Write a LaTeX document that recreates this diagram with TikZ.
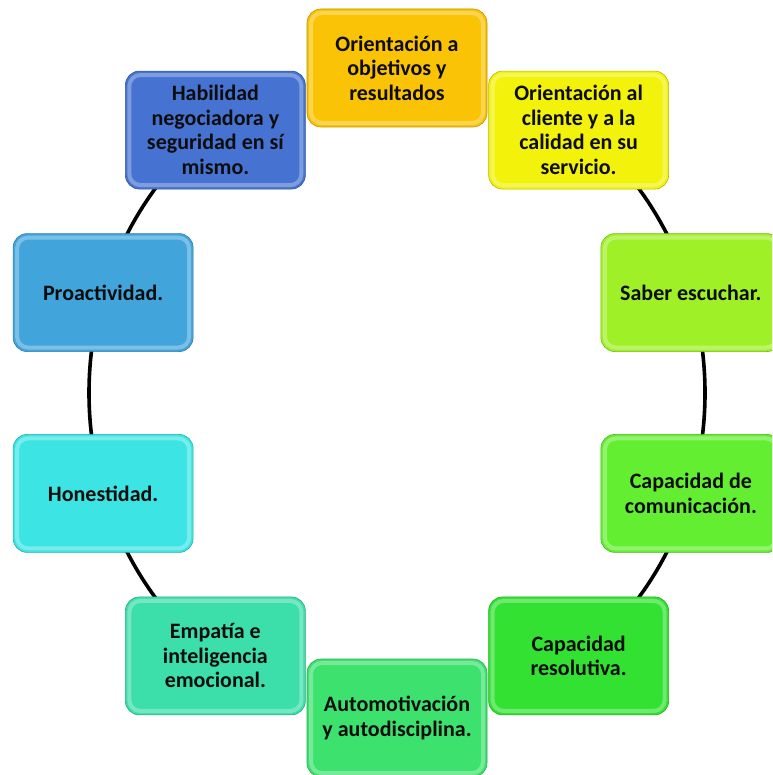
\documentclass[tikz,border=0pt]{standalone}
\usepackage{fontspec}
\setmainfont{Carlito}
\definecolor{c0}{RGB}{250,195,5}
\definecolor{c1}{RGB}{242,242,10}
\definecolor{c2}{RGB}{160,240,40}
\definecolor{c3}{RGB}{100,238,50}
\definecolor{c4}{RGB}{50,225,50}
\definecolor{c5}{RGB}{60,225,110}
\definecolor{c6}{RGB}{60,222,170}
\definecolor{c7}{RGB}{60,228,228}
\definecolor{c8}{RGB}{65,165,220}
\definecolor{c9}{RGB}{70,115,210}
\begin{document}
\begin{tikzpicture}[x=1pt,y=1pt,
  cycbox/.style={draw=#1!75!black, line width=0.6pt, fill=#1,
    rounded corners=14pt, minimum width=180pt, minimum height=118pt,
    align=center, inner sep=2pt, text=black!95,
    font=\fontsize{22}{24.5}\selectfont\bfseries,
    path picture={\draw[white, opacity=0.3, line width=4pt, rounded corners=11pt]
      ([shift={(4pt,4pt)}]path picture bounding box.south west) rectangle
      ([shift={(-4pt,-4pt)}]path picture bounding box.north east);}},
  ring/.style={line width=3.6pt, black}]
\clip (0,0) rectangle (772,-775);
% ring that links the boxes, on both sides of the cycle
\coordinate (ctr) at (397,-393);
\draw[ring] ([shift={(-54:308pt and 330pt)}]ctr)
  arc[start angle=-54, end angle=54, x radius=308pt, y radius=330pt];
\draw[ring] ([shift={(126:308pt and 330pt)}]ctr)
  arc[start angle=126, end angle=234, x radius=308pt, y radius=330pt];
% the ten boxes placed clockwise from the top
\foreach \k/\txt in {
  0/{Orientación a\\objetivos y\\resultados},
  1/{Orientación al\\cliente y a la\\calidad en su\\servicio.},
  2/{Saber escuchar.},
  3/{Capacidad de\\comunicación.},
  4/{Capacidad\\resolutiva.},
  5/{Automotivación\\y autodisciplina.},
  6/{Empatía e\\inteligencia\\emocional.},
  7/{Honestidad.},
  8/{Proactividad.},
  9/{Habilidad\\negociadora y\\seguridad en sí\\mismo.}}{
  \node[cycbox=c\k] (b\k) at ({397+309*cos(90-36*\k)},{-393+325*sin(90-36*\k)}) {\txt};
}
\end{tikzpicture}
\end{document}
